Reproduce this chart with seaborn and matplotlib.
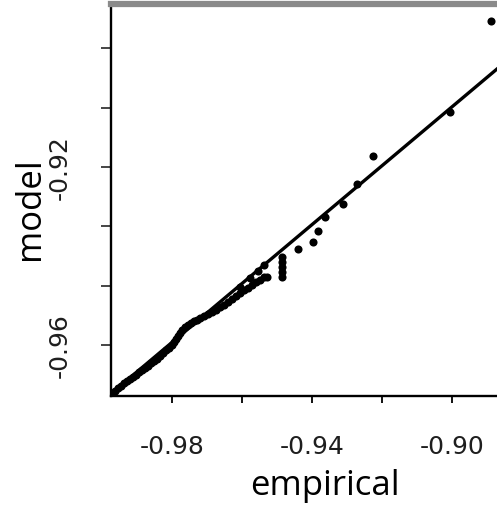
import matplotlib
matplotlib.use("Agg")
import matplotlib.pyplot as plt
import seaborn as sns
import pandas as pd

# Quantile pairs: empirical quantile vs. model quantile
empirical = [
    -0.9971, -0.9963, -0.9954, -0.9946, -0.9937, -0.9929, -0.9920, -0.9911,
    -0.9903, -0.9894, -0.9886, -0.9877, -0.9869, -0.9860, -0.9851, -0.9843,
    -0.9834, -0.9826, -0.9817, -0.9809, -0.9800, -0.9794, -0.9789, -0.9783,
    -0.9777, -0.9771, -0.9763, -0.9754, -0.9746, -0.9737, -0.9729, -0.9720,
    -0.9709, -0.9697, -0.9686, -0.9674, -0.9663, -0.9651, -0.9640, -0.9629,
    -0.9617, -0.9606, -0.9594, -0.9583, -0.9571, -0.9560, -0.9549, -0.9537,
    -0.9606, -0.9577, -0.9554, -0.9537,
    -0.9529, -0.9486, -0.9486, -0.9486, -0.9486, -0.9486, -0.9440, -0.9397,
    -0.9383, -0.9363, -0.9311, -0.9271, -0.9226, -0.9006, -0.8889,
]
model = [
    -0.9708, -0.9703, -0.9697, -0.9692, -0.9685, -0.9681, -0.9676, -0.9672,
    -0.9667, -0.9661, -0.9656, -0.9652, -0.9647, -0.9640, -0.9636, -0.9631,
    -0.9625, -0.9618, -0.9611, -0.9607, -0.9600, -0.9593, -0.9587, -0.9580,
    -0.9573, -0.9566, -0.9560, -0.9555, -0.9551, -0.9546, -0.9544, -0.9539,
    -0.9535, -0.9530, -0.9526, -0.9521, -0.9515, -0.9510, -0.9503, -0.9497,
    -0.9490, -0.9483, -0.9476, -0.9472, -0.9465, -0.9458, -0.9454, -0.9447,
    -0.9470, -0.9449, -0.9434, -0.9420,
    -0.9447, -0.9402, -0.9413, -0.9425, -0.9436, -0.9447, -0.9384, -0.9369,
    -0.9344, -0.9312, -0.9283, -0.9238, -0.9175, -0.9076, -0.8872,
]

# Reference line through the quantiles
qq_intercept = -0.31051
qq_slope = 0.6622

x_ticks = [-0.98, -0.96, -0.94, -0.92, -0.90]
x_tick_labels = ["-0.98", "", "-0.94", "", "-0.90"]
y_ticks = [-0.96, -0.9467, -0.9333, -0.92, -0.9067, -0.8933]
y_tick_labels = ["-0.96", "", "", "-0.92", "", ""]

df = pd.DataFrame({"empirical": empirical, "model": model})

sns.set_theme(style="white")
plt.rcParams["font.family"] = ["DejaVu Sans"]

fig = plt.figure(figsize=(4.97, 5.06), dpi=100)
ax = fig.add_axes([0.2233, 0.2154, 0.7928, 0.7747])

sns.scatterplot(data=df, x="empirical", y="model", ax=ax, color="black",
                s=34, linewidth=0, zorder=3)
ax.axline((0, qq_intercept), slope=qq_slope, color="black", lw=2.4, zorder=2)

ax.set_xlim(-0.9974, -0.8849)
ax.set_ylim(-0.9715, -0.8834)

ax.set_xticks(x_ticks)
ax.set_xticklabels(x_tick_labels)
ax.set_yticks(y_ticks)
ax.set_yticklabels(y_tick_labels, rotation=90, va="center")

ax.tick_params(axis="both", which="major", direction="out", width=1.4,
               labelsize=18, labelcolor="#1e1e1e", bottom=True, left=True)
ax.tick_params(axis="x", pad=22, length=5, color="#111111")
ax.tick_params(axis="y", pad=21, length=7.5, color="#444444")

for side in ("left", "bottom"):
    ax.spines[side].set_color("black")
    ax.spines[side].set_linewidth(1.7)
ax.spines["top"].set_color("#8a8a8a")
ax.spines["top"].set_linewidth(4.5)
ax.spines["right"].set_visible(False)

label_font = dict(fontsize=25, family=["Open Sans", "DejaVu Sans"], color="black")
ax.set_xlabel("empirical", **label_font)
ax.set_ylabel("model", **label_font)
ax.xaxis.set_label_coords(0.542, -0.227)
ax.xaxis.label.set_va("center")
ax.yaxis.set_label_coords(-0.2056, 0.481)
ax.yaxis.label.set_va("center")

fig.savefig("out.png", dpi=100)
